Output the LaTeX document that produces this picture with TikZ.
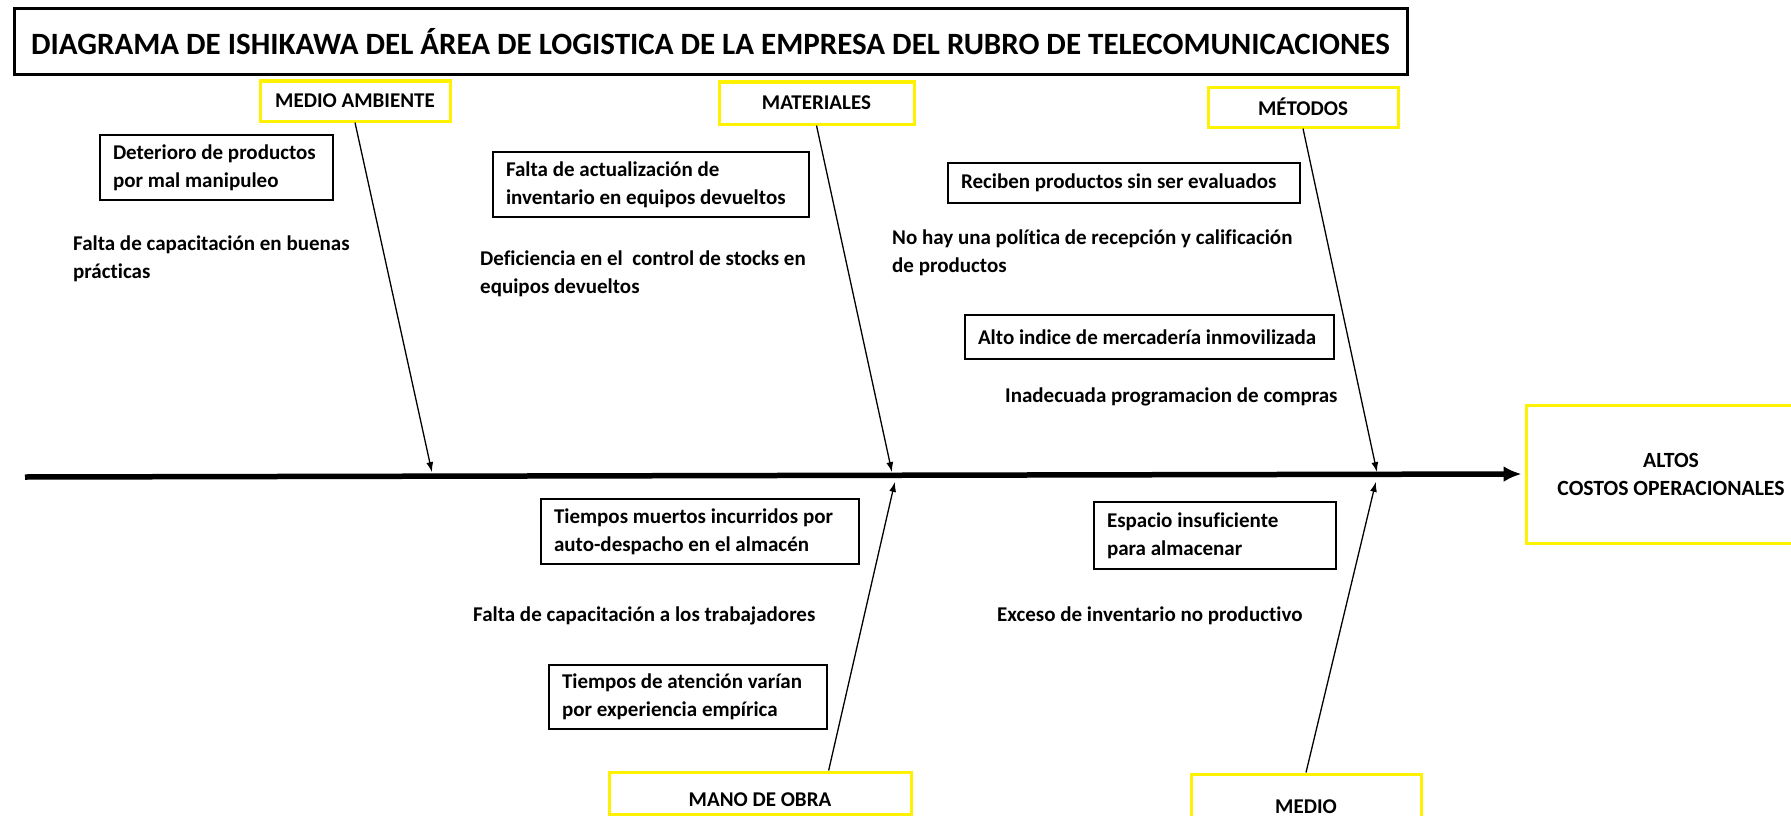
\documentclass[tikz,border=0pt]{standalone}
\usepackage{fontspec}
\setmainfont{Carlito}[Ligatures=NoCommon]
\usetikzlibrary{arrows.meta,calc}
\begin{document}
\begin{tikzpicture}[x=1pt,y=-1pt,
  every node/.style={font=\fontsize{21}{28}\selectfont\bfseries},
  cat/.style={draw=yellow, line width=3pt, inner sep=0pt, align=center},
  cause/.style={draw=black, line width=1.3pt, inner xsep=13pt, inner ysep=0pt, align=left,
                execute at begin node={\spaceskip=0pt \xspaceskip=0pt }},
  plain/.style={inner sep=0pt, align=left, anchor=west},
  bone/.style={line width=1.3pt, -{Latex[length=10pt,width=7pt]}, shorten >=5pt},
  spine/.style={line width=5.5pt, -{Latex[length=18pt,width=16pt]}, shorten >=3pt},
]
\useasboundingbox (0,0) rectangle (1791,816);
\clip (0,0) rectangle (1791,816);
\fill[white] (0,0) rectangle (1791,816);

% title
\node[draw, line width=3pt, minimum width=1393pt, minimum height=66pt, inner sep=0pt,
      font=\fontsize{31}{36}\selectfont\bfseries] (title) at (710.5,42)
  {DIAGRAMA DE ISHIKAWA DEL ÁREA DE LOGISTICA DE LA EMPRESA DEL RUBRO DE TELECOMUNICACIONES};

% categories
\node[cat, minimum width=190pt, minimum height=40pt] (ma) at (355,101) {MEDIO AMBIENTE};
\node[cat, minimum width=195pt, minimum height=42pt] (mat) at (816.5,103) {MATERIALES};
\node[cat, minimum width=190pt, minimum height=40pt] (met) at (1303,107) {MÉTODOS};
\node[cat, minimum width=302pt, minimum height=42pt] (mo) at (760,793) {\raisebox{-13pt}[0pt][0pt]{MANO DE OBRA}};
\node[cat, minimum width=230pt, minimum height=66pt] (med) at (1306,807) {MEDIO};

% effect
\node[cat, minimum width=290pt, minimum height=138pt, font=\fontsize{21.7}{28}\selectfont\bfseries] (eff) at (1671,474) {ALTOS\\COSTOS OPERACIONALES};

% spine
\coordinate (sp0) at (25,477);
\draw[spine] (sp0) -- (eff.west);

% junctions
\coordinate (j1) at (433,477);
\coordinate (j2) at (893,477);
\coordinate (j3) at (1378,477);
\coordinate (j4) at (896,477);
\coordinate (j5) at (1377,477);

\draw[bone] (ma.south) -- (j1);
\draw[bone] (mat.south) -- (j2);
\draw[bone] (met.south) -- (j3);
\draw[bone] ($(mo.north west)!0.725!(mo.north east)$) -- (j4);
\draw[bone] (med.north) -- (j5);

% cause boxes
\node[cause, text width=207pt, minimum height=65pt] (c1) at (216.5,167.5)
  {\mbox{Deterioro de productos}\\\mbox{por mal manipuleo}};
\node[cause, text width=290pt, minimum height=65pt] (c2) at (651,184.5)
  {\mbox{Falta de actualización de}\\\mbox{inventario en equipos devueltos}};
\node[cause, text width=326pt, minimum height=40pt] (c3) at (1124,183)
  {\mbox{Reciben productos sin ser evaluados}};
\node[cause, text width=343pt, minimum height=44pt] (c4) at (1149.5,337)
  {\mbox{Alto indice de mercadería inmovilizada}};
\node[cause, text width=292pt, minimum height=65pt] (c5) at (700,531.5)
  {\mbox{Tiempos muertos incurridos por}\\\mbox{auto-despacho en el almacén}};
\node[cause, text width=252pt, minimum height=64pt] (c6) at (688,697)
  {\mbox{Tiempos de atención varían}\\\mbox{por experiencia empírica}};
\node[cause, text width=216pt, minimum height=67pt] (c7) at (1215,535.5)
  {\mbox{Espacio insuficiente}\\\mbox{para almacenar}};

% plain causes
\node[plain] (t1) at (73,259) {Falta de capacitación en buenas\\prácticas};
\node[plain] (t2) at (480,274) {Deficiencia en el\ \ control de stocks en\\equipos devueltos};
\node[plain] (t3) at (892,253) {No hay una política de recepción y calificación\\de productos};
\node[plain] (t4) at (1005,397) {Inadecuada programacion de compras};
\node[plain] (t5) at (473,616) {Falta de capacitación a los trabajadores};
\node[plain] (t6) at (997,616) {Exceso de inventario no productivo};
\end{tikzpicture}
\end{document}
